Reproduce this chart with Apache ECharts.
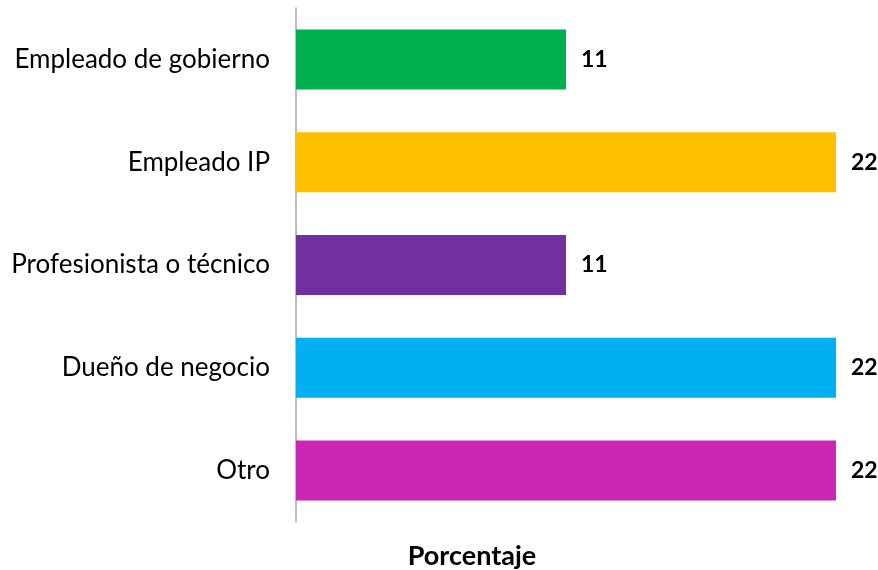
<!DOCTYPE html>
<html lang="es">
    <head>
        <meta charset="utf-8">
        <script src="https://cdn.jsdelivr.net/npm/echarts@6/dist/echarts.min.js"></script>
        <title>Porcentaje</title>
        <style>
            html, body { margin: 0; padding: 0; background: #fff; }
            #chart { width: 878px; height: 570px; }
        </style>
    </head>
    <body>
        <div id="chart"></div>
        <script>
            var categories = ['Empleado de gobierno', 'Empleado IP', 'Profesionista o técnico', 'Dueño de negocio', 'Otro'];
            var values = [11, 22, 11, 22, 22];
            var colors = ['#00B050', '#FFC000', '#7030A0', '#00B0F0', '#CC27B4'];
            var axisName = 'Porcentaje';

            var font = 'Lato, "Open Sans", sans-serif';
            var chart = echarts.init(document.getElementById('chart'));
            chart.setOption({
                animation: false,
                title: {
                    text: axisName,
                    left: 467,
                    top: 538,
                    textAlign: 'center',
                    textStyle: { fontFamily: font, fontSize: 27, fontWeight: 'bold', color: '#000' }
                },
                grid: { left: 296, right: 42, top: 8, bottom: 48 },
                xAxis: {
                    type: 'value',
                    min: 0,
                    max: 22,
                    show: false
                },
                yAxis: {
                    type: 'category',
                    inverse: true,
                    data: categories,
                    axisLine: { lineStyle: { color: '#A6A6A6', width: 1.5 } },
                    axisTick: { show: false },
                    axisLabel: { color: '#000', fontSize: 26, fontFamily: font, margin: 26 }
                },
                series: [{
                    type: 'bar',
                    barWidth: 60,
                    data: values.map(function (v, i) {
                        return { value: v, itemStyle: { color: colors[i] } };
                    }),
                    label: {
                        show: true,
                        position: 'right',
                        distance: 15,
                        color: '#000',
                        fontSize: 23,
                        fontWeight: 'bold',
                        fontFamily: font
                    }
                }]
            });
        </script>
    </body>
</html>
